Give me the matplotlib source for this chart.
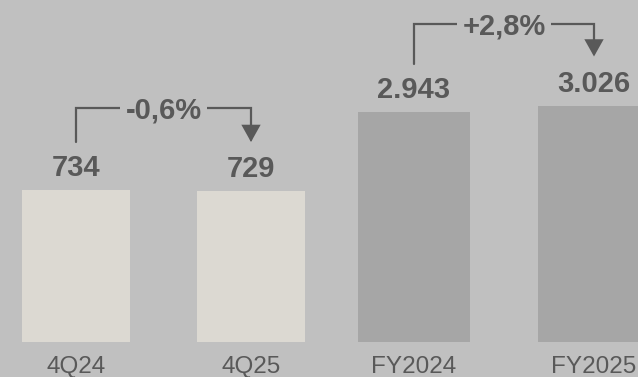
import matplotlib.pyplot as plt
from matplotlib.patches import FancyArrowPatch
from matplotlib.path import Path

# quarterly and full-year figures
quarter_labels = ["4Q24", "4Q25"]
quarter_values = [734, 729]
year_labels = ["FY2024", "FY2025"]
year_values = [2943, 3026]
changes = ["-0,6%", "+2,8%"]

BG = "#c0c0c0"
TXT = "#595959"
plt.rcParams['font.family'] = ['Liberation Sans', 'DejaVu Sans']

fig = plt.figure(figsize=(6.38, 3.77), dpi=100, facecolor=BG)
W, H = 638.0, 377.0
ax_q = fig.add_axes([6 / W, 35 / H, 315 / W, 342 / H])
ax_y = fig.add_axes([324 / W, 35 / H, 315 / W, 342 / H])


def offset(ax, x, y, dy):
    # shift a data point by dy pixels vertically
    dx_, dy_ = ax.transData.transform((x, y))
    return ax.transData.inverted().transform((dx_, dy_ + dy))


def panel(ax, labels, values, colour, ymax, xlim, change):
    ax.set_facecolor(BG)
    ax.set_xlim(*xlim)
    ax.set_ylim(0, ymax)
    xs = list(range(len(values)))
    ax.bar(xs, values, width=0.62, color=colour, zorder=2)
    ax.set_xticks(xs)
    ax.set_xticklabels(labels, fontsize=17.5, color=TXT)
    ax.tick_params(axis='x', length=0, pad=10)
    ax.set_yticks([])
    for s in ax.spines.values():
        s.set_visible(False)

    for x, v in zip(xs, values):
        ax.annotate(f"{v:,}".replace(",", "."), (x, v), xytext=(0, 10),
                    textcoords='offset points', ha='center', va='baseline',
                    fontsize=21, fontweight='bold', color=TXT)

    # change bracket from first to second bar
    top = max(values)
    y_line = offset(ax, 0, top, 82)[1]
    start = offset(ax, 0, values[0], 48)
    tip = offset(ax, 1, values[1], 49)
    path = Path([start, (0, y_line), (1, y_line), tip])
    arrow = FancyArrowPatch(path=path, arrowstyle='-|>,head_length=10,head_width=5.6',
                            mutation_scale=1, color=TXT, lw=1.6,
                            joinstyle='miter', clip_on=False, zorder=3)
    ax.add_patch(arrow)
    ax.text(0.5, y_line, change, ha='center', va='center_baseline',
            fontsize=21, fontweight='bold', color=TXT, zorder=4,
            bbox=dict(boxstyle='square,pad=0.2', fc=BG, ec='none'),
            clip_on=False)


panel(ax_q, quarter_labels, quarter_values, "#dcd9d2", 1651, (-0.4, 1.4), changes[0])
panel(ax_y, year_labels, year_values, "#a6a6a6", 4376, (-0.5, 1.25), changes[1])

fig.savefig("out.png", dpi=100, facecolor=BG)
